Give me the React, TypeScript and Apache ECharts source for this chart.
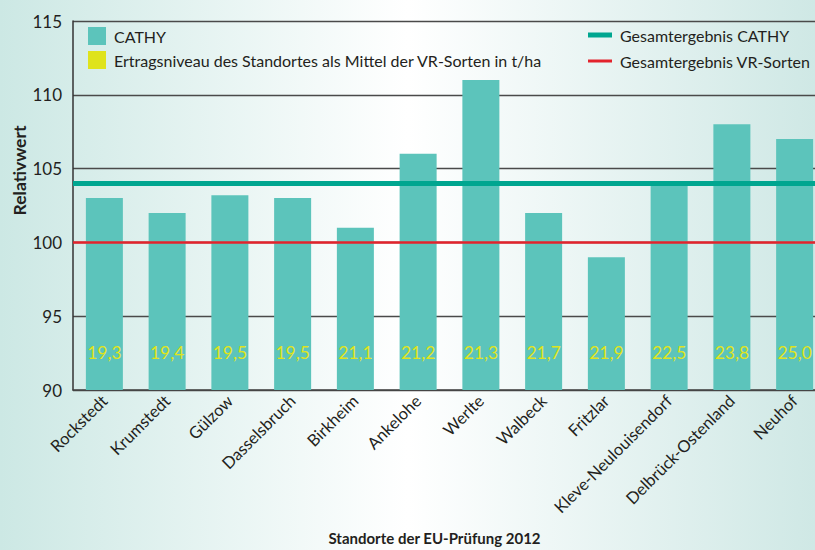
import React, { useEffect, useRef } from "react";
import * as echarts from "echarts";

const categories = [
  "Rockstedt",
  "Krumstedt",
  "Gülzow",
  "Dasselsbruch",
  "Birkheim",
  "Ankelohe",
  "Werlte",
  "Walbeck",
  "Fritzlar",
  "Kleve-Neulouisendorf",
  "Delbrück-Ostenland",
  "Neuhof",
];
const relativwert = [103.0, 102.0, 103.2, 103.0, 101.0, 106.0, 111.0, 102.0, 99.0, 104.0, 108.0, 107.0];
const ertragsniveau = ["19,3", "19,4", "19,5", "19,5", "21,1", "21,2", "21,3", "21,7", "21,9", "22,5", "23,8", "25,0"];
const gesamtCathy = 104;
const gesamtVR = 100;
const yMin = 90;
const yMax = 115;
const yStep = 5;

const FONT = "Lato, 'Open Sans', sans-serif";
const TXT = "#231f20";

const nameCathy = "CATHY";
const nameErtrag = "Ertragsniveau des Standortes als Mittel der VR-Sorten in t/ha";
const nameGesCathy = "Gesamtergebnis CATHY";
const nameGesVR = "Gesamtergebnis VR-Sorten";

export default function App() {
  const ref = useRef<HTMLDivElement>(null);
  useEffect(() => {
    document.body.style.margin = "0";
    const chart = echarts.init(ref.current!, null, { renderer: "svg" });
    chart.setOption({
      animation: false,
      backgroundColor: new echarts.graphic.LinearGradient(0, 0, 1, 0, [
        { offset: 0, color: "#cce8e4" },
        { offset: 0.5, color: "#ffffff" },
        { offset: 1, color: "#cfe8e5" },
      ]),
      textStyle: { fontFamily: FONT },
      legend: [
        {
          left: 83,
          top: 22,
          orient: "vertical",
          selectedMode: false,
          icon: "rect",
          itemWidth: 18,
          itemHeight: 18,
          itemGap: 6,
          data: [nameCathy, nameErtrag],
          textStyle: { fontSize: 16, color: TXT, fontFamily: FONT, padding: [0, 0, 0, 3] },
        },
        {
          left: 583,
          top: 22,
          selectedMode: false,
          icon: "rect",
          itemWidth: 24,
          itemHeight: 5,
          data: [nameGesCathy],
          textStyle: { fontSize: 16, color: TXT, fontFamily: FONT, padding: [0, 0, 0, 3] },
        },
        {
          left: 583,
          top: 48,
          selectedMode: false,
          icon: "rect",
          itemWidth: 24,
          itemHeight: 3,
          data: [nameGesVR],
          textStyle: { fontSize: 16, color: TXT, fontFamily: FONT, padding: [0, 0, 0, 3] },
        },
      ],
      grid: { left: 73, right: -11, top: 21, bottom: 160, containLabel: false, outerBoundsMode: "none" },
      xAxis: {
        type: "category",
        data: categories,
        name: "Standorte der EU-Prüfung 2012",
        nameLocation: "middle",
        nameGap: 140,
        nameMoveOverlap: false,
        nameTextStyle: { fontSize: 15, fontWeight: "bold", color: TXT, fontFamily: FONT, padding: [0, 30, 0, 0] },
        axisLine: { lineStyle: { color: "#444", width: 1.5 } },
        axisTick: { inside: true, length: 8, lineStyle: { color: "#444", width: 1.5 } },
        axisLabel: { rotate: 45, interval: 0, fontSize: 16.5, color: TXT, margin: 8, fontFamily: FONT },
      },
      yAxis: {
        type: "value",
        min: yMin,
        max: yMax,
        interval: yStep,
        name: "Relativwert",
        nameLocation: "middle",
        nameRotate: 90,
        nameGap: 45,
        nameMoveOverlap: false,
        nameTextStyle: { fontSize: 17.5, fontWeight: "bold", color: TXT, fontFamily: FONT, padding: [0, 0, 0, 70] },
        axisLine: { show: true, lineStyle: { color: "#333", width: 1.5 } },
        axisTick: { show: false },
        axisLabel: { fontSize: 17, color: TXT, margin: 11, fontFamily: FONT },
        splitLine: { lineStyle: { color: "#4a4a4a", width: 1.3 } },
      },
      series: [
        {
          name: nameCathy,
          type: "bar",
          data: relativwert,
          barWidth: 37,
          itemStyle: { color: "#5cc4bb" },
          label: {
            show: true,
            position: "insideBottom",
            distance: 29,
            fontSize: 17.5,
            color: "#e0e41c",
            fontFamily: FONT,
            formatter: (p: any) => ertragsniveau[p.dataIndex],
          },
        },
        {
          name: nameErtrag,
          type: "line",
          data: [],
          color: "#dfe31c",
          itemStyle: { color: "#dfe31c" },
        },
        {
          name: nameGesCathy,
          type: "line",
          data: [],
          color: "#00a690",
          itemStyle: { color: "#00a690" },
          markLine: {
            silent: true,
            symbol: "none",
            label: { show: false },
            lineStyle: { color: "#00a690", width: 5, type: "solid" },
            data: [{ yAxis: gesamtCathy }],
          },
        },
        {
          name: nameGesVR,
          type: "line",
          data: [],
          color: "#e3232c",
          itemStyle: { color: "#e3232c" },
          markLine: {
            silent: true,
            symbol: "none",
            label: { show: false },
            lineStyle: { color: "#e3232c", width: 2.5, type: "solid" },
            data: [{ yAxis: gesamtVR }],
          },
        },
      ],
    });
    return () => chart.dispose();
  }, []);
  return <div ref={ref} style={{ width: 815, height: 550 }} />;
}
